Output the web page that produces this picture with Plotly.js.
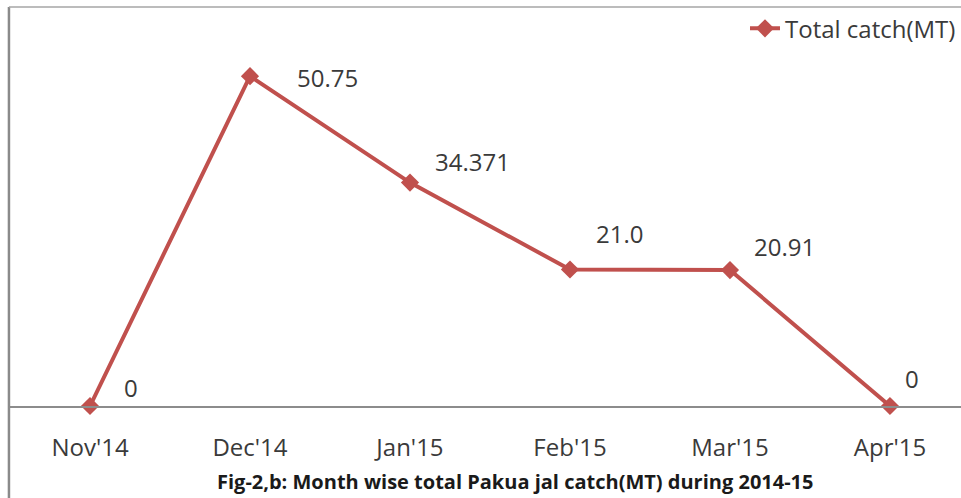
<!DOCTYPE html>
<html>
<head>
<meta charset="utf-8">
<script src="https://cdn.plot.ly/plotly-3.0.1.min.js"></script>
<style>html,body{margin:0;padding:0;background:#fff;}#chart{width:961px;height:498px;}</style>
</head>
<body>
<div id="chart"></div>
<script>
// Data
var months = ["Nov'14", "Dec'14", "Jan'15", "Feb'15", "Mar'15", "Apr'15"];
var totalCatch = [0, 50.75, 34.371, 21.0, 20.91, 0];
var valueLabels = ["0", "50.75", "34.371", "21.0", "20.91", "0"];
var seriesName = "Total catch(MT)";
var caption = "Fig-2,b: Month wise total Pakua jal catch(MT) during 2014-15";

// Styling: label offsets (px) relative to each point
var labelDx = [41, 78, 63, 50, 55, 22];
var labelDy = [19, -1, 21, 36, 24, 28];

var red = "#C0504D";
var textColor = "#3a3a3a";
var fontFam = "'Open Sans', sans-serif";

var trace = {
  x: months,
  y: totalCatch,
  type: "scatter",
  mode: "lines+markers",
  name: seriesName,
  line: {color: red, width: 4},
  marker: {symbol: "diamond", size: 14, color: red},
  cliponaxis: false
};

var annotations = months.map(function (m, i) {
  return {
    x: m, y: totalCatch[i], xref: "x", yref: "y",
    text: valueLabels[i], showarrow: false,
    xshift: labelDx[i], yshift: labelDy[i],
    xanchor: "center", yanchor: "middle",
    font: {family: fontFam, size: 24, color: textColor}
  };
});
annotations.push({
  text: "<b>" + caption + "</b>", xref: "paper", yref: "paper",
  x: 0.532, y: -0.193, xanchor: "center", yanchor: "middle", showarrow: false,
  font: {family: fontFam, size: 20, color: "#1a1a1a"}
});

var layout = {
  width: 961, height: 498,
  margin: {l: 10, r: 0, t: 16, b: 92, pad: 0},
  paper_bgcolor: "#ffffff", plot_bgcolor: "#ffffff",
  showlegend: true,
  legend: {
    x: 1, xanchor: "right", y: 1.025, yanchor: "top",
    bgcolor: "rgba(0,0,0,0)",
    font: {family: fontFam, size: 24, color: textColor}
  },
  xaxis: {
    type: "category",
    range: [-0.5, 5.444],
    showgrid: false, zeroline: false,
    showline: true, linecolor: "#8c8c8c", linewidth: 1.5,
    ticks: "outside", ticklen: 20, tickcolor: "rgba(0,0,0,0)",
    tickfont: {family: fontFam, size: 24, color: textColor},
    fixedrange: true
  },
  yaxis: {
    range: [0, 60],
    showgrid: false, zeroline: false, showline: false,
    showticklabels: false, ticks: "",
    fixedrange: true
  },
  annotations: annotations,
  shapes: [
    {type: "line", xref: "paper", yref: "paper", x0: -0.0011, x1: -0.0011, y0: 1.023, y1: -0.3,
     line: {color: "#8a8a8a", width: 2.5}},
    {type: "line", xref: "paper", yref: "paper", x0: -0.0011, x1: 1.01, y0: 1.023, y1: 1.023,
     line: {color: "#a6a6a6", width: 1.5}}
  ]
};

Plotly.newPlot("chart", [trace], layout, {displayModeBar: false, staticPlot: true});
</script>
</body>
</html>
